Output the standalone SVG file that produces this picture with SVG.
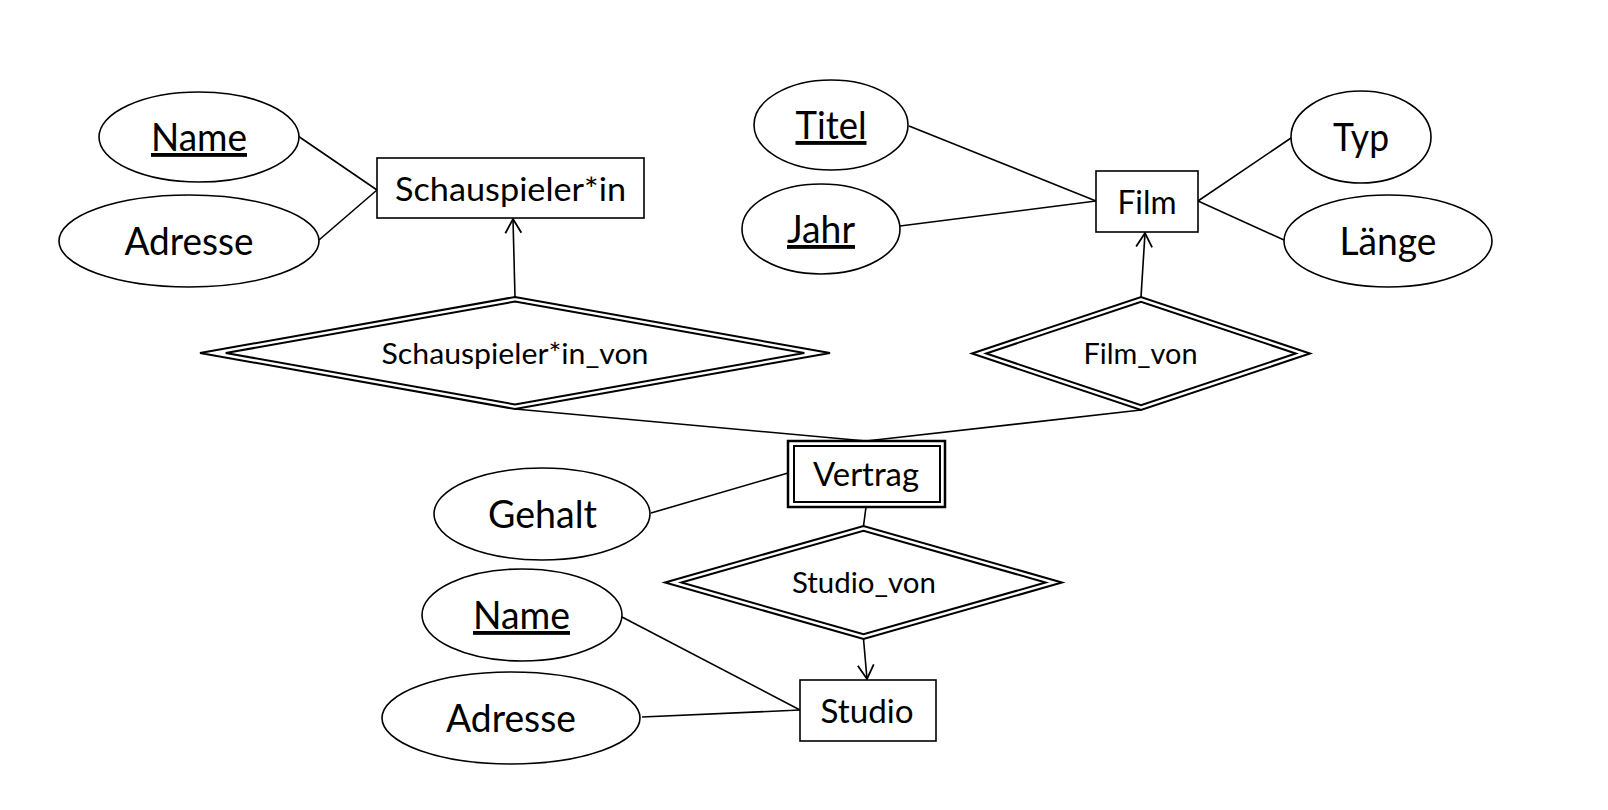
<svg xmlns="http://www.w3.org/2000/svg" width="1608" height="810" viewBox="0 0 1608 810">
<style>
.sh{fill:#fff;stroke:#000;stroke-width:1.6}
.dl{fill:none;stroke:#000;stroke-width:2}
.ln{fill:none;stroke:#000;stroke-width:1.6}
.t{font-family:Lato,"Liberation Sans",sans-serif;fill:#000;text-anchor:middle}
.a{font-size:38.5px}
.e{font-size:32px}
.r{font-size:28.5px}
.u{text-decoration:underline}
</style>
<defs>
<marker id="arr" viewBox="-16 -10 18 20" refX="0" refY="0" markerWidth="18" markerHeight="20" markerUnits="userSpaceOnUse" orient="auto">
<path d="M-14,-8 L0,0 L-14,8" fill="none" stroke="#000" stroke-width="1.8"/>
</marker>
</defs>
<rect width="1608" height="810" fill="#fff"/>
<g id="connectors">
<line class="ln" x1="298" y1="136" x2="377" y2="190"/>
<line class="ln" x1="319" y1="240" x2="377" y2="190"/>
<line class="ln" x1="909" y1="126" x2="1096" y2="201"/>
<line class="ln" x1="900" y1="226" x2="1096" y2="201"/>
<line class="ln" x1="1291" y1="138" x2="1198" y2="201"/>
<line class="ln" x1="1284" y1="240" x2="1198" y2="201"/>
<line class="ln" x1="651" y1="513" x2="788" y2="473"/>
<line class="ln" x1="622" y1="617" x2="800" y2="710"/>
<line class="ln" x1="642" y1="717" x2="800" y2="710"/>
<line class="ln" x1="515" y1="409" x2="866" y2="441"/>
<line class="ln" x1="1141" y1="410" x2="866" y2="441"/>
<line class="ln" x1="866" y1="507" x2="863.5" y2="526"/>
<line class="ln" x1="515" y1="297" x2="513" y2="219" marker-end="url(#arr)"/>
<line class="ln" x1="1141" y1="297" x2="1145" y2="233" marker-end="url(#arr)"/>
<line class="ln" x1="863.5" y1="639" x2="867" y2="679" marker-end="url(#arr)"/>
</g>
<g id="schauspieler">
<rect class="sh" x="377" y="158" width="267" height="60"/>
<text class="t e" x="510.5" y="201" textLength="231" lengthAdjust="spacingAndGlyphs">Schauspieler*in</text>
</g>
<g id="name1">
<ellipse class="sh" cx="199" cy="137" rx="100" ry="45"/>
<text class="t a u" x="199" y="151" textLength="96" lengthAdjust="spacingAndGlyphs">Name</text>
</g>
<g id="adresse1">
<ellipse class="sh" cx="189" cy="241" rx="130" ry="46"/>
<text class="t a" x="189" y="255" textLength="129" lengthAdjust="spacingAndGlyphs">Adresse</text>
</g>
<g id="film">
<rect class="sh" x="1096" y="171" width="102" height="61"/>
<text class="t e" x="1147" y="214" textLength="59" lengthAdjust="spacingAndGlyphs">Film</text>
</g>
<g id="titel">
<ellipse class="sh" cx="831" cy="125" rx="77" ry="45"/>
<text class="t a u" x="831" y="139" textLength="71" lengthAdjust="spacingAndGlyphs">Titel</text>
</g>
<g id="jahr">
<ellipse class="sh" cx="821" cy="229" rx="79" ry="45"/>
<text class="t a u" x="821" y="243" textLength="68" lengthAdjust="spacingAndGlyphs">Jahr</text>
</g>
<g id="typ">
<ellipse class="sh" cx="1361" cy="137" rx="70" ry="46"/>
<text class="t a" x="1361" y="151" textLength="56" lengthAdjust="spacingAndGlyphs">Typ</text>
</g>
<g id="laenge">
<ellipse class="sh" cx="1388" cy="241" rx="104" ry="46"/>
<text class="t a" x="1388" y="255" textLength="97" lengthAdjust="spacingAndGlyphs">Länge</text>
</g>
<g id="schauspieler_von">
<polygon class="dl" points="200,353 515,297 830,353 515,409"/>
<polygon class="dl" points="225.7,353 515,301.6 804.3,353 515,404.4"/>
<text class="t r" x="515" y="364" textLength="267" lengthAdjust="spacingAndGlyphs">Schauspieler*in_von</text>
</g>
<g id="film_von">
<polygon class="dl" points="972,353.5 1141,297 1310,353.5 1141,410"/>
<polygon class="dl" points="986.2,353.5 1141,301.7 1295.8,353.5 1141,405.3"/>
<text class="t r" x="1140.5" y="364" textLength="114" lengthAdjust="spacingAndGlyphs">Film_von</text>
</g>
<g id="vertrag">
<rect x="788" y="441" width="157" height="66" fill="#fff" stroke="#000" stroke-width="2.5"/>
<rect x="794" y="446" width="146" height="56" fill="none" stroke="#000" stroke-width="2"/>
<text class="t e" x="866" y="486" textLength="106" lengthAdjust="spacingAndGlyphs">Vertrag</text>
</g>
<g id="gehalt">
<ellipse class="sh" cx="542" cy="514" rx="108" ry="46"/>
<text class="t a" x="542.5" y="528" textLength="109" lengthAdjust="spacingAndGlyphs">Gehalt</text>
</g>
<g id="studio_von">
<polygon class="dl" points="665,582.5 863.5,526 1062,582.5 863.5,639"/>
<polygon class="dl" points="681.4,582.5 863.5,530.7 1045.6,582.5 863.5,634.3"/>
<text class="t r" x="864" y="593" textLength="144" lengthAdjust="spacingAndGlyphs">Studio_von</text>
</g>
<g id="studio">
<rect class="sh" x="800" y="680" width="136" height="61"/>
<text class="t e" x="867" y="723" textLength="93" lengthAdjust="spacingAndGlyphs">Studio</text>
</g>
<g id="name2">
<ellipse class="sh" cx="522" cy="615" rx="100" ry="46"/>
<text class="t a u" x="521.5" y="629" textLength="97" lengthAdjust="spacingAndGlyphs">Name</text>
</g>
<g id="adresse2">
<ellipse class="sh" cx="511" cy="718" rx="129" ry="46"/>
<text class="t a" x="511" y="732" textLength="130" lengthAdjust="spacingAndGlyphs">Adresse</text>
</g>
</svg>
